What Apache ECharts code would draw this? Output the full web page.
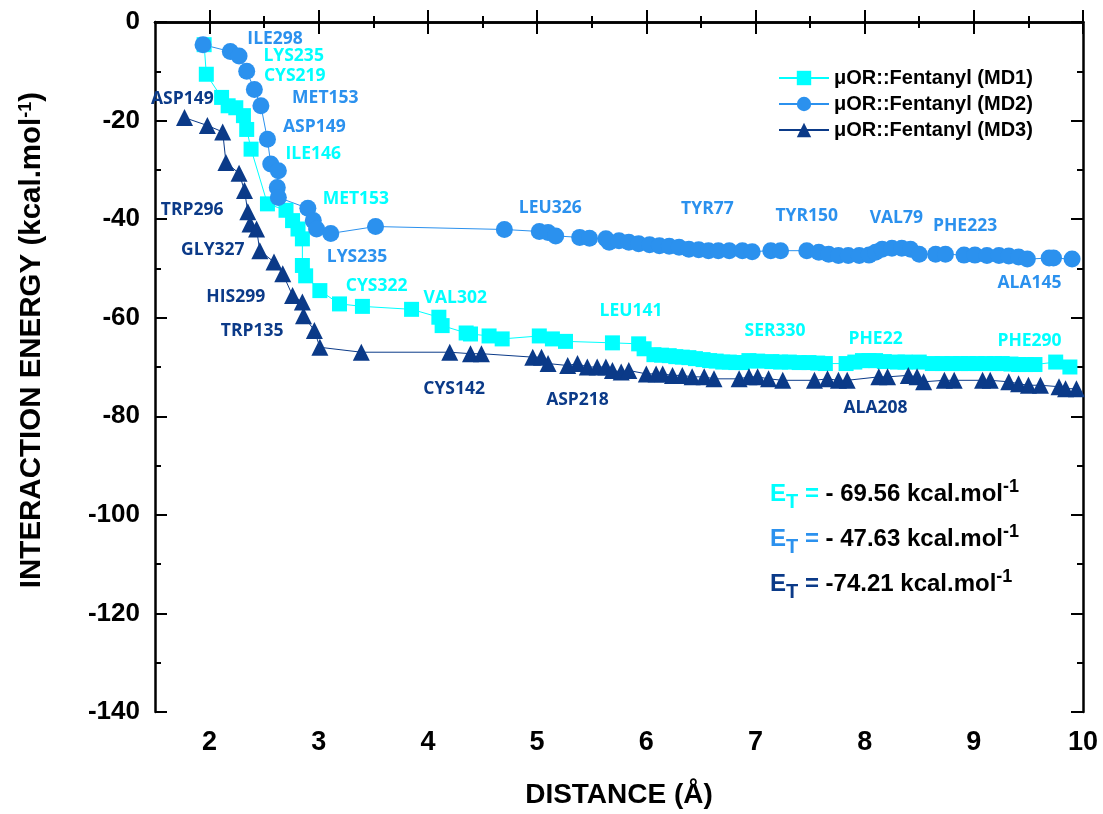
<!DOCTYPE html>
<html>
<head>
<meta charset="utf-8">
<script src="https://cdn.jsdelivr.net/npm/echarts@6/dist/echarts.min.js"></script>
<style>
  html, body { margin: 0; padding: 0; background: #fff; }
  #chart { width: 1103px; height: 814px; }
</style>
</head>
<body>
<div id="chart"></div>
<script>
// series colours
const C1 = '#00FFFF'
const C2 = '#2B91EE'
const C3 = '#0B3A88'

const seriesNames = ['μOR::Fentanyl (MD1)', 'μOR::Fentanyl (MD2)', 'μOR::Fentanyl (MD3)']

// [distance, energy]
const md1 = [
  [1.95, -4.6], [1.97, -10.6], [2.11, -15.3], [2.17, -17], [2.24, -17.4], [2.31, -19],
  [2.34, -21.8], [2.38, -25.8], [2.53, -36.9], [2.70, -38.2], [2.76, -40.3], [2.81, -42],
  [2.85, -44], [2.85, -49.4], [2.88, -51.5], [3.01, -54.5], [3.19, -57.2], [3.40, -57.7],
  [3.85, -58.3], [4.10, -59.9], [4.13, -61.6], [4.35, -63.1], [4.39, -63.3], [4.56, -63.7],
  [4.68, -64.3], [5.02, -63.7], [5.14, -64.3], [5.26, -64.8], [5.69, -65.1], [5.93, -65.3],
  [5.98, -66.3], [6.07, -67.5], [6.14, -67.6], [6.21, -67.7], [6.27, -67.9], [6.33, -68],
  [6.39, -68.1], [6.45, -68.3], [6.52, -68.5], [6.58, -68.7], [6.64, -68.8], [6.70, -69],
  [6.76, -69], [6.82, -69.1], [6.88, -69.1], [6.94, -68.7], [7.02, -68.8], [7.15, -68.9],
  [7.23, -69], [7.31, -69], [7.40, -69.1], [7.49, -69.1], [7.57, -69.2], [7.64, -69.3],
  [7.83, -69.3], [7.91, -69], [7.98, -68.7], [8.04, -68.7], [8.10, -68.7], [8.18, -68.9],
  [8.30, -69], [8.37, -69], [8.50, -69], [8.62, -69.3], [8.71, -69.3], [8.80, -69.3],
  [8.88, -69.3], [8.95, -69.3], [9.03, -69.3], [9.11, -69.3], [9.19, -69.3], [9.26, -69.3],
  [9.34, -69.4], [9.41, -69.5], [9.48, -69.5], [9.56, -69.5], [9.75, -69], [9.88, -70]
]

const md2 = [
  [1.94, -4.6], [2.19, -6], [2.27, -6.9], [2.34, -10], [2.41, -13.7], [2.47, -17],
  [2.53, -23.8], [2.56, -28.8], [2.63, -30.2], [2.62, -33.6], [2.63, -35.6], [2.90, -37.8],
  [2.95, -40.3], [2.98, -42], [3.11, -42.9], [3.52, -41.5], [4.70, -42.1], [5.02, -42.5],
  [5.10, -42.7], [5.17, -43.4], [5.39, -43.7], [5.48, -43.9], [5.63, -44], [5.66, -44.7],
  [5.75, -44.4], [5.84, -44.7], [5.93, -45], [6.03, -45.2], [6.12, -45.4], [6.21, -45.5],
  [6.30, -45.7], [6.39, -46.1], [6.48, -46.2], [6.57, -46.4], [6.66, -46.4], [6.76, -46.4],
  [6.88, -46.4], [6.97, -46.6], [7.14, -46.4], [7.23, -46.4], [7.47, -46.4], [7.58, -46.7],
  [7.67, -47.1], [7.76, -47.4], [7.85, -47.4], [7.95, -47.4], [8.04, -47.3], [8.10, -46.7],
  [8.16, -46.1], [8.25, -45.9], [8.34, -45.9], [8.42, -46.1], [8.50, -47.1], [8.65, -47.1],
  [8.74, -47.1], [8.91, -47.3], [9.01, -47.3], [9.12, -47.4], [9.23, -47.4], [9.32, -47.5],
  [9.41, -47.7], [9.49, -48.1], [9.69, -47.9], [9.73, -47.9], [9.90, -48.1]
]

const md3 = [
  [1.77, -19.4], [1.98, -21], [2.12, -22.3], [2.15, -28.5], [2.27, -30.7], [2.32, -34.2],
  [2.35, -38.5], [2.37, -41], [2.43, -42], [2.46, -46.4], [2.59, -48.7], [2.67, -51.1],
  [2.76, -55.5], [2.85, -56.8], [2.86, -59.6], [2.96, -62.6], [3.01, -66], [3.39, -67],
  [4.20, -67], [4.39, -67.3], [4.49, -67.3], [4.96, -68], [5.04, -68], [5.10, -69.3],
  [5.28, -69.7], [5.37, -69.3], [5.46, -70], [5.55, -70], [5.63, -70], [5.69, -70.7],
  [5.77, -71], [5.84, -70.7], [6.00, -71.4], [6.09, -71.4], [6.15, -71.4], [6.24, -71.7],
  [6.33, -71.7], [6.42, -72], [6.53, -72], [6.62, -72.4], [6.85, -72.4], [6.94, -72],
  [7.02, -72], [7.12, -72.4], [7.25, -72.7], [7.54, -72.7], [7.66, -72.4], [7.76, -72.7],
  [7.84, -72.7], [8.13, -72], [8.21, -72], [8.40, -71.7], [8.48, -72], [8.54, -73],
  [8.73, -72.7], [8.82, -72.7], [9.08, -72.7], [9.15, -72.7], [9.32, -73], [9.41, -73.4],
  [9.50, -73.7], [9.61, -73.7], [9.78, -74], [9.84, -74.4], [9.94, -74.4]
]

// residue labels: [name, distance, energy]
const md1Labels = [
  ['LYS235', 2.77, -7], ['CYS219', 2.78, -11], ['ILE146', 2.95, -26.8], ['MET153', 3.34, -36],
  ['CYS322', 3.53, -53.5], ['VAL302', 4.25, -56], ['LEU141', 5.86, -58.6], ['SER330', 7.18, -62.7],
  ['PHE22', 8.10, -64.3], ['PHE290', 9.51, -64.7]
]
const md2Labels = [
  ['ILE298', 2.60, -3.5], ['MET153', 3.06, -15.5], ['ASP149', 2.96, -21.4], ['LYS235', 3.35, -47.7],
  ['LEU326', 5.12, -37.7], ['TYR77', 6.56, -37.9], ['TYR150', 7.47, -39.4], ['VAL79', 8.29, -39.8],
  ['PHE223', 8.92, -41.4], ['ALA145', 9.51, -52.9]
]
const md3Labels = [
  ['ASP149', 1.75, -15.7], ['TRP296', 1.84, -38.2], ['GLY327', 2.03, -46.3], ['HIS299', 2.24, -55.8],
  ['TRP135', 2.39, -62.7], ['CYS142', 4.24, -74.4], ['ASP218', 5.37, -76.6], ['ALA208', 8.10, -78.4]
]

const totals = ['- 69.56', '- 47.63', '-74.21']

const xMajor = [2, 3, 4, 5, 6, 7, 8, 9, 10]
const xMinor = [2.5, 3.5, 4.5, 5.5, 6.5, 7.5, 8.5, 9.5]

const chart = echarts.init(document.getElementById('chart'))

const AXIS_FONT = 'Liberation Sans'

function xAxisCfg(position, major, withLabels) {
  return {
    type: 'value',
    position: position,
    min: 1.5,
    max: 10,
    axisLine: { show: major, lineStyle: { color: '#000', width: 2.5 } },
    axisTick: {
      inside: true,
      length: major ? 12 : 6,
      customValues: major ? xMajor : xMinor,
      lineStyle: { color: '#000', width: 2 }
    },
    axisLabel: withLabels ? {
      customValues: xMajor,
      margin: 17,
      color: '#000',
      fontSize: 27,
      fontWeight: 'bold',
      fontFamily: AXIS_FONT
    } : { show: false },
    splitLine: { show: false },
    name: withLabels ? 'DISTANCE (Å)' : '',
    nameLocation: 'middle',
    nameGap: 69,
    nameTextStyle: { color: '#000', fontSize: 28, fontWeight: 'bold', fontFamily: AXIS_FONT }
  }
}

function yAxisCfg(position, withLabels) {
  return {
    type: 'value',
    position: position,
    min: -140,
    max: 0,
    interval: 20,
    axisLine: { show: true, lineStyle: { color: '#000', width: 2.5 } },
    axisTick: { inside: true, length: 12, lineStyle: { color: '#000', width: 2 } },
    minorTick: { show: true, splitNumber: 2, length: 6, lineStyle: { color: '#000', width: 2 } },
    axisLabel: withLabels ? {
      margin: 15,
      color: '#000',
      fontSize: 26,
      fontWeight: 'bold',
      fontFamily: AXIS_FONT
    } : { show: false },
    splitLine: { show: false }
  }
}

function residueMarks(labels, color) {
  return {
    symbol: 'circle',
    symbolSize: 0,
    silent: true,
    animation: false,
    label: {
      show: true,
      position: 'inside',
      formatter: '{b}',
      color: color,
      fontSize: 17.5,
      fontWeight: 'bold',
      fontFamily: 'Open Sans'
    },
    data: labels.map(l => ({ name: l[0], coord: [l[1], l[2]] }))
  }
}

function lineSeries(name, data, symbol, size, color, labels) {
  return {
    name: name,
    type: 'line',
    data: data,
    symbol: symbol,
    symbolSize: size,
    showAllSymbol: true,
    itemStyle: { color: color },
    lineStyle: { color: color, width: 1 },
    markPoint: residueMarks(labels, color)
  }
}

function totalText(i, color) {
  return {
    type: 'text',
    left: 770,
    top: 478 + i * 45,
    style: {
      text: '{e|E}{t|T}{e| = }{v|' + totals[i] + ' kcal.mol}{s|-1}',
      rich: {
        e: { fontSize: 24, fontWeight: 'bold', fontFamily: AXIS_FONT, fill: color, verticalAlign: 'bottom' },
        t: { fontSize: 20, fontWeight: 'bold', fontFamily: AXIS_FONT, fill: color, verticalAlign: 'bottom', padding: [0, 0, -6, 0] },
        v: { fontSize: 24, fontWeight: 'bold', fontFamily: AXIS_FONT, fill: '#000', verticalAlign: 'bottom' },
        s: { fontSize: 18, fontWeight: 'bold', fontFamily: AXIS_FONT, fill: '#000', verticalAlign: 'top', padding: [-4, 0, 0, 0] }
      }
    }
  }
}

chart.setOption({
  animation: false,
  backgroundColor: '#fff',
  grid: { left: 155, right: 20, top: 22, bottom: 100 },
  legend: {
    orient: 'vertical',
    left: 773,
    top: 63,
    itemWidth: 50,
    itemHeight: 18,
    itemGap: 6,
    data: seriesNames,
    textStyle: { color: '#000', fontSize: 20, fontWeight: 'bold', fontFamily: AXIS_FONT }
  },
  xAxis: [
    xAxisCfg('bottom', true, true),
    xAxisCfg('bottom', false, false),
    xAxisCfg('top', true, false),
    xAxisCfg('top', false, false)
  ],
  yAxis: [
    yAxisCfg('left', true),
    yAxisCfg('right', false)
  ],
  series: [
    lineSeries(seriesNames[0], md1, 'rect', 15, C1, md1Labels),
    lineSeries(seriesNames[1], md2, 'circle', 17, C2, md2Labels),
    lineSeries(seriesNames[2], md3, 'triangle', 17, C3, md3Labels)
  ],
  graphic: [
    {
      type: 'text',
      x: 32,
      y: 340,
      rotation: Math.PI / 2,
      style: {
        text: '{n|INTERACTION ENERGY (kcal.mol}{s|-1}{n|)}',
        align: 'center',
        verticalAlign: 'middle',
        rich: {
          n: { fontSize: 29.5, fontWeight: 'bold', fontFamily: AXIS_FONT, fill: '#000', verticalAlign: 'bottom' },
          s: { fontSize: 18, fontWeight: 'bold', fontFamily: AXIS_FONT, fill: '#000', verticalAlign: 'top' }
        }
      }
    },
    totalText(0, C1),
    totalText(1, C2),
    totalText(2, C3)
  ]
})
</script>
</body>
</html>
